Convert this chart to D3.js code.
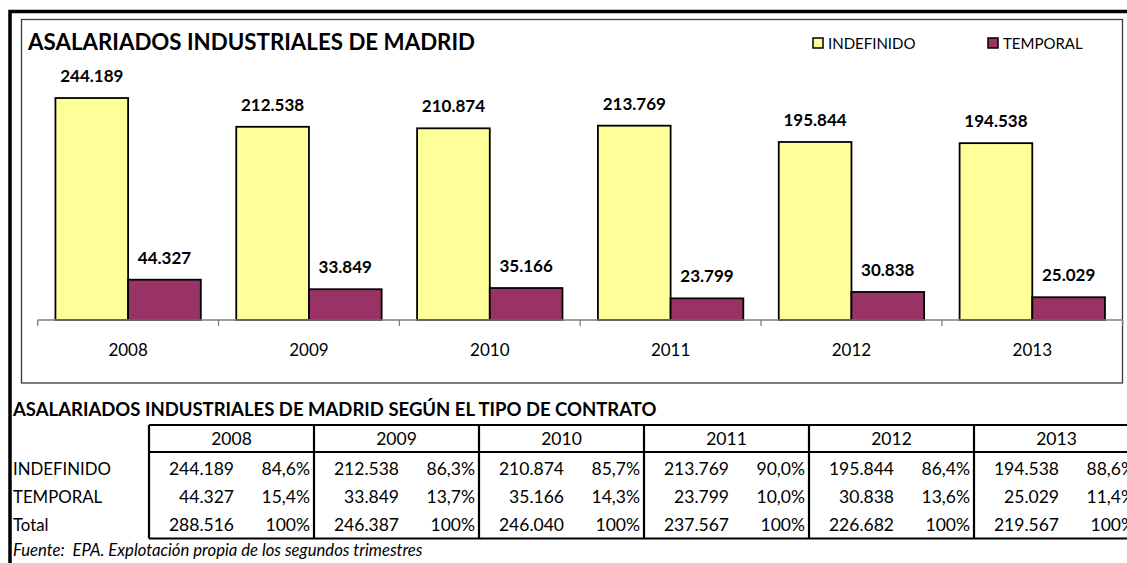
<!DOCTYPE html>
<html>
<head>
<meta charset="utf-8">
<script src="https://cdn.jsdelivr.net/npm/d3@7"></script>
<style>
  body { margin: 0; background: #fff; }
  svg { display: block; font-family: Lato, "Open Sans", sans-serif; }
</style>
</head>
<body>
<div id="chart"></div>
<script>
const YEARS = ['2008', '2009', '2010', '2011', '2012', '2013'];
const SERIES = ['INDEFINIDO', 'TEMPORAL'];
const INDEFINIDO = [244189, 212538, 210874, 213769, 195844, 194538];
const TEMPORAL = [44327, 33849, 35166, 23799, 30838, 25029];
const TOTAL = [288516, 246387, 246040, 237567, 226682, 219567];
const PCT_INDEFINIDO = [84.6, 86.3, 85.7, 90.0, 86.4, 88.6];
const PCT_TEMPORAL = [15.4, 13.7, 14.3, 10.0, 13.6, 11.4];
const PCT_TOTAL = [100, 100, 100, 100, 100, 100];

const W = 1127, H = 563;
const color = d3.scaleOrdinal().domain(SERIES).range(['#FFFF99', '#993366']);

// spanish number format: 244.189 / 84,6%
const es = d3.formatLocale({decimal: ',', thousands: '.', grouping: [3], currency: ['', '€']});
const fmtNum = es.format(',d');
const fmtPct = v => (v === 100 ? '100' : es.format('.1f')(v)) + '%';

const svg = d3.select('#chart').append('svg')
  .attr('width', W).attr('height', H);

// outer thick sheet border (top + left, rest falls outside the picture)
svg.append('rect')
  .attr('x', 10).attr('y', 11.5).attr('width', W + 20).attr('height', H + 20)
  .attr('fill', 'none').attr('stroke', '#000').attr('stroke-width', 3.5);

// chart frame
svg.append('rect')
  .attr('x', 21.5).attr('y', 19.5).attr('width', 1101).attr('height', 363.5)
  .attr('fill', '#fff').attr('stroke', '#3a3a3a').attr('stroke-width', 1.3);

svg.append('text')
  .attr('x', 28).attr('y', 50)
  .style('font-size', '22.3px').style('font-weight', 'bold')
  .text('ASALARIADOS INDUSTRIALES DE MADRID');

// legend
const legendX = [813, 988];
const legend = svg.append('g').selectAll('g')
  .data(SERIES)
  .enter().append('g')
  .attr('transform', (d, i) => 'translate(' + legendX[i] + ',38)');
legend.append('rect')
  .attr('width', 10).attr('height', 10)
  .attr('fill', d => color(d)).attr('stroke', '#000').attr('stroke-width', 1.5);
legend.append('text')
  .attr('x', 15).attr('y', 10.5)
  .style('font-size', '15px')
  .text(d => d);

// ===================== bars =====================
const x = d3.scaleBand()
  .domain(YEARS)
  .range([37.7, 1122.7])
  .paddingInner(0.196)
  .paddingOuter(0.098);

const xs = d3.scaleBand().domain(SERIES).range([0, x.bandwidth()]);

const y = d3.scaleLinear()
  .domain([0, 300000])
  .range([320, 47.3]);

const dataReady = YEARS.map((yr, i) => ({
  year: yr,
  values: [
    {key: 'INDEFINIDO', value: INDEFINIDO[i]},
    {key: 'TEMPORAL', value: TEMPORAL[i]}
  ]
}));

const groups = svg.append('g').selectAll('g')
  .data(dataReady)
  .enter().append('g')
  .attr('transform', d => 'translate(' + x(d.year) + ',0)');

groups.selectAll('rect')
  .data(d => d.values)
  .enter().append('rect')
  .attr('x', d => xs(d.key))
  .attr('y', d => y(d.value))
  .attr('width', xs.bandwidth())
  .attr('height', d => y(0) - y(d.value))
  .attr('fill', d => color(d.key))
  .attr('stroke', '#000').attr('stroke-width', 1.8);

groups.selectAll('text')
  .data(d => d.values)
  .enter().append('text')
  .attr('x', d => xs(d.key) + xs.bandwidth() / 2)
  .attr('y', d => y(d.value) - 16)
  .attr('text-anchor', 'middle')
  .style('font-size', '17px').style('font-weight', 'bold')
  .text(d => fmtNum(d.value));

// category axis, Excel style: ticks between the groups
const gap = (x.step() - x.bandwidth()) / 2;
const bounds = YEARS.map(d => x(d) - gap).concat([x(YEARS[YEARS.length - 1]) + x.bandwidth() + gap]);
const axis = svg.append('g').attr('transform', 'translate(0,' + y(0) + ')');
axis.append('line')
  .attr('x1', bounds[0]).attr('x2', bounds[bounds.length - 1])
  .attr('stroke', '#7f7f7f').attr('stroke-width', 1.3);
axis.selectAll('.tk')
  .data(bounds)
  .enter().append('line')
  .attr('x1', d => d).attr('x2', d => d)
  .attr('y1', 0).attr('y2', 6)
  .attr('stroke', '#7f7f7f').attr('stroke-width', 1.3);
axis.selectAll('.lbl')
  .data(YEARS)
  .enter().append('text')
  .attr('x', d => x(d) + x.bandwidth() / 2)
  .attr('y', 35.7)
  .attr('text-anchor', 'middle')
  .style('font-size', '17px')
  .text(d => d);

// ===================== table =====================
svg.append('text')
  .attr('x', 13).attr('y', 416)
  .style('font-size', '18.5px').style('font-weight', 'bold')
  .text('ASALARIADOS INDUSTRIALES DE MADRID SEGÚN EL TIPO DE CONTRATO');

const tx = d3.scaleBand().domain(YEARS).range([149, 149 + 165 * YEARS.length]);
const rowTop = 425, headerBottom = 452, tableBottom = 538.5;
const rows = [
  {label: 'INDEFINIDO', nums: INDEFINIDO, pcts: PCT_INDEFINIDO, base: 474.5},
  {label: 'TEMPORAL', nums: TEMPORAL, pcts: PCT_TEMPORAL, base: 502.5},
  {label: 'Total', nums: TOTAL, pcts: PCT_TOTAL, base: 530.5}
];

const table = svg.append('g').style('font-size', '17.5px');

[rowTop, headerBottom, tableBottom].forEach(yy => {
  table.append('line')
    .attr('x1', tx.range()[0]).attr('x2', W)
    .attr('y1', yy).attr('y2', yy)
    .attr('stroke', '#000').attr('stroke-width', 2.2);
});
table.selectAll('.vl')
  .data(YEARS.concat(['end']))
  .enter().append('line')
  .attr('x1', (d, i) => tx.range()[0] + i * tx.step())
  .attr('x2', (d, i) => tx.range()[0] + i * tx.step())
  .attr('y1', rowTop).attr('y2', tableBottom)
  .attr('stroke', '#000').attr('stroke-width', 2.2);

table.selectAll('.hd')
  .data(YEARS)
  .enter().append('text')
  .attr('x', d => tx(d) + tx.bandwidth() / 2)
  .attr('y', 444.5)
  .attr('text-anchor', 'middle')
  .text(d => d);

rows.forEach(r => {
  table.append('text').attr('x', 13).attr('y', r.base)
    .style('font-size', '16.8px').text(r.label);
  table.selectAll(null)
    .data(YEARS)
    .enter().append('text')
    .attr('x', d => tx(d) + 85)
    .attr('y', r.base)
    .attr('text-anchor', 'end')
    .text((d, i) => fmtNum(r.nums[i]));
  table.selectAll(null)
    .data(YEARS)
    .enter().append('text')
    .attr('x', d => tx(d) + 161)
    .attr('y', r.base)
    .attr('text-anchor', 'end')
    .text((d, i) => fmtPct(r.pcts[i]));
});

svg.append('text')
  .attr('x', 13).attr('y', 556)
  .style('font-size', '16.7px').style('font-style', 'italic')
  .style('white-space', 'pre')
  .text('Fuente:  EPA. Explotación propia de los segundos trimestres');
</script>
</body>
</html>
